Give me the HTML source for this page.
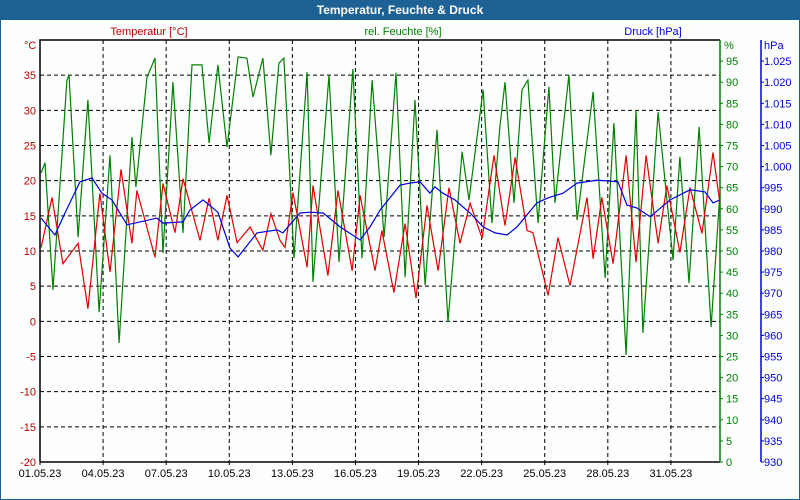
<!DOCTYPE html>
<html><head><meta charset="utf-8"><style>
body{margin:0;width:800px;height:500px;overflow:hidden;background:#fff;font-family:"Liberation Sans",sans-serif}
#wrap{position:absolute;left:0;top:0;width:798px;height:499px;border:1px solid #1e6194;border-top:none;background:#fdfefe}
#title{position:absolute;left:0;top:0;width:800px;height:20px;background:#1e6194;color:#fff;font-weight:bold;font-size:12px;text-align:center;line-height:20px}
</style></head><body>
<div id="wrap"></div>
<div id="title">Temperatur, Feuchte &amp; Druck</div>
<svg id="chart" width="800" height="500" style="position:absolute;left:0;top:0"></svg>
<script>
// Data (time in days since 01.05.23 00:00)
const tempDays=[0.05,0.57,1.09,1.81,2.28,2.85,3.33,3.85,4.37,4.61,5.47,5.85,6.42,6.80,7.61,8.04,8.46,8.89,9.37,9.99,10.6,10.98,11.41,11.65,12.03,12.70,12.98,13.69,14.17,14.84,15.22,15.93,16.26,16.83,17.36,17.88,18.40,18.93,19.45,19.97,20.45,21.02,21.59,22.11,22.59,23.16,23.44,24.16,24.63,25.20,26.01,26.30,26.72,27.25,27.87,28.34,28.82,29.39,29.81,30.43,30.91,31.48,32.00,32.33];
const tempValues=[10.5,17.6,8.2,11.1,1.8,18.2,7.0,21.6,11.1,18.6,9.1,19.6,12.6,20.3,11.5,17.5,11.5,17.9,11.2,13.4,10.1,15.3,11.5,10.5,18.3,7.7,19.3,6.5,18.6,7.2,17.9,7.2,12.9,4.1,13.9,3.3,16.5,7.2,19.0,11.1,16.8,11.8,23.6,13.6,23.3,12.9,12.6,3.7,11.9,5.1,17.6,8.9,17.6,8.2,23.6,8.4,23.6,11.1,19.3,9.8,19.0,12.5,24.0,16.8];
const humDays=[0.05,0.24,0.62,1.28,1.38,1.81,2.28,2.81,3.33,3.76,4.37,4.56,5.09,5.47,5.85,6.32,6.80,7.23,7.70,8.04,8.46,8.89,9.42,9.84,10.13,10.60,10.98,11.36,11.60,12.08,12.70,12.98,13.74,14.22,14.88,15.31,15.79,16.36,16.93,17.36,17.83,18.31,18.88,19.40,20.07,20.40,21.07,21.49,21.87,22.11,22.54,22.92,23.20,23.68,24.20,24.49,25.15,25.54,26.30,26.87,27.29,27.87,28.34,28.67,29.39,30.10,30.43,30.86,31.34,31.91,32.33];
const humValues=[68.5,70.9,40.8,90.5,91.7,53.3,85.8,35.5,72.7,28.2,77.0,65.2,91.2,95.7,49.5,90.0,54.3,94.1,94.1,75.6,94.1,74.6,96.0,95.7,86.5,95.7,72.7,94.5,95.7,48.3,92.4,42.7,91.7,47.4,93.1,48.3,90.5,53.3,92.2,43.8,85.8,41.9,78.7,33.2,73.5,62.1,88.2,56.6,79.4,90.0,61.4,88.2,90.5,56.6,88.9,61.4,91.7,57.3,87.7,43.6,80.3,25.4,83.4,30.6,82.9,47.9,72.3,42.4,79.4,32.0,63.7];
const pressDays=[0.05,0.71,1.19,1.90,2.47,2.95,3.42,4.14,4.76,5.56,5.85,6.80,7.13,7.75,8.46,9.03,9.42,10.32,11.27,11.55,12.36,12.84,13.46,14.27,15.22,15.69,16.17,17.12,17.59,18.07,18.54,18.78,19.16,19.73,20.45,21.07,21.64,22.21,22.68,23.63,24.16,24.87,25.54,26.49,27.48,27.91,28.39,29.01,29.96,30.91,31.62,32.00,32.33];
const pressValues=[987.8,983.8,989.0,996.4,997.3,993.7,992.1,986.2,986.9,987.8,986.6,986.9,989.7,992.1,989.2,980.7,978.6,984.3,985.0,984.3,989.0,989.2,989.0,985.7,982.6,985.7,989.7,995.6,996.1,996.4,993.7,995.2,993.7,992.1,989.0,985.7,984.3,983.8,985.7,991.4,992.6,993.7,996.1,996.8,996.4,990.9,990.2,988.1,992.1,994.5,994.0,991.4,992.1];
const xTickDays=[0,3,6,9,12,15,18,21,24,27,30];
const xTickLabels=["01.05.23","04.05.23","07.05.23","10.05.23","13.05.23","16.05.23","19.05.23","22.05.23","25.05.23","28.05.23","31.05.23"];
const tempTicks=[40,35,30,25,20,15,10,5,0,-5,-10,-15,-20];
const humTicks=[95,90,85,80,75,70,65,60,55,50,45,40,35,30,25,20,15,10,5,0];
const pressTicks=[1025,1020,1015,1010,1005,1000,995,990,985,980,975,970,965,960,955,950,945,940,935,930];

const L=40,R=720,T=40,B=462,DMAX=(R-L)/21.03;
const xS=d=>L+d*(R-L)/DMAX;
const yT=v=>B-(v+20)*(B-T)/60;
const yH=v=>B-v*(B-T)/100;
const yP=v=>B-(v-930)*(B-T)/100;
const svg=document.getElementById('chart');const NS='http://www.w3.org/2000/svg';
function mk(tag,at,txt){const e=document.createElementNS(NS,tag);for(const k in at)e.setAttribute(k,at[k]);if(txt!==undefined)e.textContent=txt;svg.appendChild(e);return e;}
const fs={'font-family':'Liberation Sans, sans-serif','font-size':11};
// grid
tempTicks.forEach(v=>{if(v>-20&&v<40){const g=mk('line',{x1:L,x2:R,y1:yT(v),y2:yT(v),stroke:'#000','stroke-dasharray':'4,3','stroke-width':1});

}});
xTickDays.forEach(d=>{if(d>0){const g=mk('line',{x1:xS(d),x2:xS(d),y1:T,y2:B,stroke:'#000','stroke-dasharray':'4,3','stroke-width':1});

}});
// frame
const fr=mk('path',{d:`M${L},${B}V${T}H${R}`,fill:'none',stroke:'#000','stroke-width':1.5});


const xa=mk('line',{x1:L,x2:R,y1:B,y2:B,stroke:'#000','stroke-width':1.5});


const ha=mk('line',{x1:R,x2:R,y1:T,y2:B,stroke:'#008000','stroke-width':1.5});


const pa=mk('line',{x1:761,x2:761,y1:T,y2:B,stroke:'#0000e0','stroke-width':1.5});


// ticks/labels
xTickDays.forEach((d,i)=>{const t=mk('text',Object.assign({x:xS(d),y:B+15,'text-anchor':'middle',fill:'#000'},fs),xTickLabels[i]);


const k=mk('line',{x1:xS(d),x2:xS(d),y1:B,y2:B+3,stroke:'#000'});

});
tempTicks.forEach(v=>{if(v===40)return;const t=mk('text',Object.assign({x:36,y:yT(v)+4,'text-anchor':'end',fill:'#c00000'},fs),String(v));

});
humTicks.forEach(v=>{const t=mk('text',Object.assign({x:726,y:yH(v)+4,fill:'#008000'},fs),String(v));


const k=mk('line',{x1:R,x2:R+3,y1:yH(v),y2:yH(v),stroke:'#008000'});

});
pressTicks.forEach(v=>{const t=mk('text',Object.assign({x:764,y:yP(v)+4,fill:'#0000e0'},fs),v>=1000?(String(v).slice(0,1)+'.'+String(v).slice(1)):String(v));


const k=mk('line',{x1:761,x2:764,y1:yP(v),y2:yP(v),stroke:'#0000e0'});

});
const u1=mk('text',Object.assign({x:24,y:49,fill:'#c00000'},fs),'°C');


const u2=mk('text',Object.assign({x:724,y:49,fill:'#008000'},fs),'%');


const u3=mk('text',Object.assign({x:764,y:49,fill:'#0000e0'},fs),'hPa');


const l1=mk('text',Object.assign({x:149,y:35,'text-anchor':'middle',fill:'#c00000'},fs),'Temperatur [°C]');


const l2=mk('text',Object.assign({x:403,y:35,'text-anchor':'middle',fill:'#008000'},fs),'rel. Feuchte [%]');


const l3=mk('text',Object.assign({x:653,y:35,'text-anchor':'middle',fill:'#0000e0'},fs),'Druck [hPa]');


// series
function pts(ds,vs,f){return ds.map((d,i)=>xS(d).toFixed(1)+','+f(vs[i]).toFixed(1)).join(' ');}
const sh=mk('polyline',{points:pts(humDays,humValues,yH),fill:'none',stroke:'#008000','stroke-width':1.2});


const st=mk('polyline',{points:pts(tempDays,tempValues,yT),fill:'none',stroke:'#e00000','stroke-width':1.2});


const sp=mk('polyline',{points:pts(pressDays,pressValues,yP),fill:'none',stroke:'#0000e0','stroke-width':1.2});


</script>
</body></html>
